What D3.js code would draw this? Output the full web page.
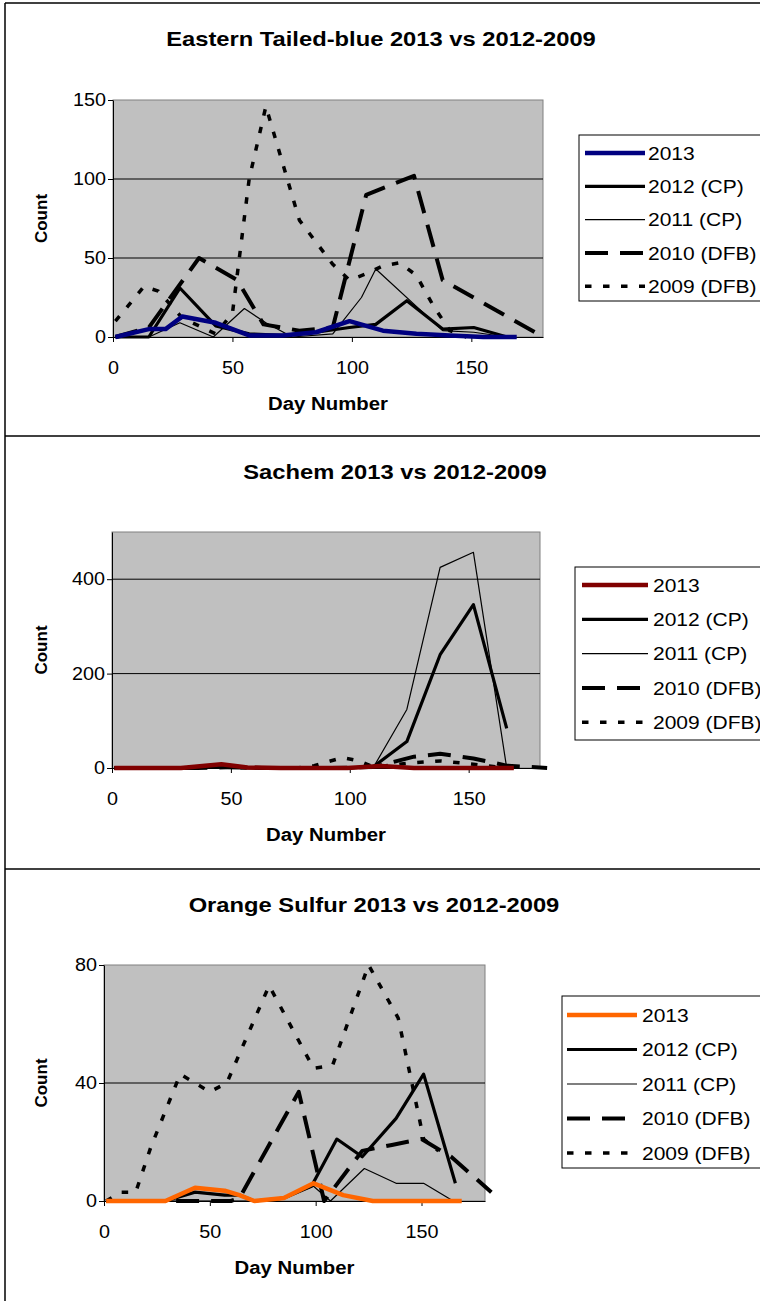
<!DOCTYPE html>
<html><head><meta charset="utf-8">
<script src="https://cdn.jsdelivr.net/npm/d3@7"></script>
<style>html,body{margin:0;padding:0;background:#fff;} svg{display:block;}</style>
</head><body>
<svg id="chart" width="760" height="1301"></svg>
<script>
// ---------- DATA ----------
const seriesNames = ["2013", "2012 (CP)", "2011 (CP)", "2010 (DFB)", "2009 (DFB)"];
const xTickValues = [0, 50, 100, 150];

// Panel 1: Eastern Tailed-blue
const etbTitle = "Eastern Tailed-blue 2013 vs 2012-2009";
const etbYTicks = [0, 50, 100, 150];
const etb2013 = [[1,0],[15,5],[22,5],[29,13],[43,9],[57,1],[71,1],[85,3],[99,10],[113,4],[127,2],[141,1],[155,0],[169,0]];
const etb2012 = [[1,0],[15,0],[28,31],[43,7],[57,2],[71,1],[85,3],[99,6],[110,8],[123,23],[138,5],[151,6],[165,0]];
const etb2011 = [[1,0],[15,0],[28,9],[42,0],[55,18],[64,9],[75,0],[92,2],[104,25],[110,43],[138,4],[151,3],[165,0]];
const etb2010 = [[1,0],[15,6],[36,50],[52,36],[63,8],[78,4],[92,6],[106,90],[126,102],[138,36],[179,1]];
const etb2009 = [[1,10],[13,32],[19,29],[29,12],[43,2],[50,15],[57,100],[64,146],[78,74],[92,46],[99,36],[106,40],[113,45],[120,47],[127,39],[134,20],[141,4],[148,0]];

// Panel 2: Sachem
const sacTitle = "Sachem 2013 vs 2012-2009";
const sacYTicks = [0, 200, 400];
const sac2013 = [[1,0],[15,0],[29,0],[46,8],[57,1],[71,0],[85,0],[99,0],[113,4],[127,0],[141,0],[155,0],[169,0]];
const sac2012 = [[1,0],[15,0],[28,0],[43,2],[57,0],[71,0],[85,0],[99,0],[110,3],[124,56],[138,240],[152,346],[166,84]];
const sac2011 = [[1,0],[15,0],[28,0],[42,0],[55,0],[64,0],[75,3],[92,2],[110,2],[124,124],[138,425],[152,457],[166,0]];
const sac2010 = [[1,0],[15,0],[36,0],[52,2],[63,0],[78,0],[92,0],[110,2],[127,24],[138,30],[152,20],[166,5],[183,0]];
const sac2009 = [[1,0],[13,0],[29,0],[43,3],[57,0],[78,0],[85,5],[97,22],[104,15],[110,2],[124,10],[138,15],[152,8],[166,0]];

// Panel 3: Orange Sulfur
const osuTitle = "Orange Sulfur 2013 vs 2012-2009";
const osuYTicks = [0, 40, 80];
const osu2013 = [[1,0],[15,0],[29,0],[43,4.5],[57,3.5],[64,2],[71,0],[85,1],[99,6],[113,2],[127,0],[141,0],[155,0],[169,0]];
const osu2012 = [[1,0],[15,0],[29,0],[43,3],[57,2],[64,2],[71,0],[85,1],[98,5],[110,21],[122,15],[138,28],[151,43],[166,6]];
const osu2011 = [[1,0],[15,0],[29,0],[43,0],[57,0],[71,0],[85,1],[99,5],[107,0],[123,11],[138,6],[151,6],[165,0]];
const osu2010 = [[1,0],[15,0],[33,0],[47,0],[60,0],[64,1],[78,19],[92,37],[104,0],[122,17],[136,19],[150,21],[164,15],[183,3]];
const osu2009 = [[1,0],[8,3],[15,3],[22,18],[36,43],[43,40],[50,37],[58,40],[78,73],[99,45],[108,46],[125,80],[139,62],[151,21],[158,17]];

// ---------- STYLES / LAYOUT ----------
const STRETCH = 1.13;
const FONT = "'Liberation Sans', Arial, sans-serif";
const seriesStyle = [
  {w: 4.5, dash: null},
  {w: 3.2, dash: null},
  {w: 1.2, dash: null},
  {w: 4,   dash: "23,12"},
  {w: 3.5, dash: "6.5,11.5"}
];
const panels = [
  {title: etbTitle, yTicks: etbYTicks, yMax: 150, color: "#000080",
   series: [etb2013, etb2012, etb2011, etb2010, etb2009],
   top: 3, x0: 113, x1: 543, y0: 100, y1: 337, titleX: 381,
   leg: {x: 579, y: 135, h: 166, row0: 153, step: 33.3, l0: 585, l1: 645, tx: 648}},
  {title: sacTitle, yTicks: sacYTicks, yMax: 500, color: "#800000",
   series: [sac2013, sac2012, sac2011, sac2010, sac2009],
   top: 436, x0: 112, x1: 540, y0: 532, y1: 768, titleX: 395,
   leg: {x: 575, y: 567, h: 173, row0: 585, step: 34.3, l0: 582, l1: 648, tx: 653}},
  {title: osuTitle, yTicks: osuYTicks, yMax: 80, color: "#FF6600",
   series: [osu2013, osu2012, osu2011, osu2010, osu2009],
   top: 869, x0: 104, x1: 485, y0: 965, y1: 1201, titleX: 374,
   leg: {x: 562, y: 996, h: 172, row0: 1015, step: 34.5, l0: 567, l1: 637, tx: 642}}
];

const svg = d3.select("#chart");

function stretch(sel, k) {
  sel.each(function () {
    const w = this.getComputedTextLength();
    this.setAttribute("textLength", w * k);
    this.setAttribute("lengthAdjust", "spacingAndGlyphs");
  });
}

// outer frame
svg.append("line").attr("x1", 5).attr("x2", 5).attr("y1", 3).attr("y2", 1301)
  .attr("stroke", "#000").attr("stroke-width", 1.5);
panels.forEach(p => {
  svg.append("line").attr("x1", 5).attr("x2", 760).attr("y1", p.top).attr("y2", p.top)
    .attr("stroke", "#000").attr("stroke-width", 1.5);
});

panels.forEach(p => {
  const g = svg.append("g");
  const x = d3.scaleLinear().domain([0, 180]).range([p.x0, p.x1]);
  const y = d3.scaleLinear().domain([0, p.yMax]).range([p.y1, p.y0]);

  // title
  const t = g.append("text").attr("x", p.titleX).attr("y", p.top + 43)
    .attr("text-anchor", "middle").attr("font-family", FONT).attr("font-weight", "bold")
    .attr("font-size", 21).text(p.title);
  stretch(t, STRETCH);

  // plot background
  g.append("rect").attr("x", p.x0).attr("y", p.y0).attr("width", p.x1 - p.x0).attr("height", p.y1 - p.y0)
    .attr("fill", "#C0C0C0").attr("stroke", "#808080").attr("stroke-width", 1);

  // gridlines
  g.selectAll(".grid").data(p.yTicks.filter(v => v > 0 && v < p.yMax)).enter().append("line")
    .attr("x1", p.x0).attr("x2", p.x1).attr("y1", d => y(d)).attr("y2", d => y(d))
    .attr("stroke", "#000").attr("stroke-width", 1);

  // axes
  const ya = g.append("g").attr("transform", `translate(${p.x0},0)`)
    .call(d3.axisLeft(y).tickValues(p.yTicks).tickSize(5).tickSizeOuter(0).tickPadding(2).tickFormat(d3.format("d")));
  const xa = g.append("g").attr("transform", `translate(0,${p.y1})`)
    .call(d3.axisBottom(x).tickValues(xTickValues).tickSize(5).tickSizeOuter(0).tickPadding(20).tickFormat(d3.format("d")));
  [ya, xa].forEach(a => {
    a.select(".domain").attr("stroke", "#000").attr("stroke-width", 1);
    a.selectAll(".tick line").attr("stroke", "#000");
    a.selectAll("text").attr("font-family", FONT).attr("font-size", 17.5).attr("fill", "#000");
    stretch(a.selectAll("text"), STRETCH);
  });

  // axis titles
  const dn = g.append("text").attr("x", (p.x0 + p.x1) / 2).attr("y", p.y1 + 73)
    .attr("text-anchor", "middle").attr("font-family", FONT).attr("font-weight", "bold")
    .attr("font-size", 18).text("Day Number");
  stretch(dn, STRETCH);
  g.append("text").attr("transform", `translate(47,${(p.y0 + p.y1) / 2}) rotate(-90)`)
    .attr("text-anchor", "middle").attr("font-family", FONT).attr("font-weight", "bold")
    .attr("font-size", 17).text("Count");

  // series lines (draw oldest first so 2013 on top)
  const line = d3.line().x(d => x(d[0])).y(d => y(d[1]));
  const order = [4, 3, 2, 1, 0];
  order.forEach(i => {
    const st = seriesStyle[i];
    g.append("path").datum(p.series[i]).attr("d", line)
      .attr("fill", "none").attr("stroke", i === 0 ? p.color : "#000")
      .attr("stroke-width", st.w).attr("stroke-dasharray", st.dash)
      .attr("stroke-linejoin", "round");
  });

  // legend
  const L = p.leg;
  g.append("rect").attr("x", L.x).attr("y", L.y).attr("width", 220).attr("height", L.h)
    .attr("fill", "#fff").attr("stroke", "#000").attr("stroke-width", 1);
  seriesNames.forEach((name, i) => {
    const cy = L.row0 + i * L.step;
    const st = seriesStyle[i];
    g.append("line").attr("x1", L.l0).attr("x2", L.l1).attr("y1", cy).attr("y2", cy)
      .attr("stroke", i === 0 ? p.color : "#000").attr("stroke-width", st.w)
      .attr("stroke-dasharray", st.dash);
    const tt = g.append("text").attr("x", L.tx).attr("y", cy + 6.7)
      .attr("font-family", FONT).attr("font-size", 18.6).text(name);
    stretch(tt, STRETCH);
  });
});
</script>
</body></html>
